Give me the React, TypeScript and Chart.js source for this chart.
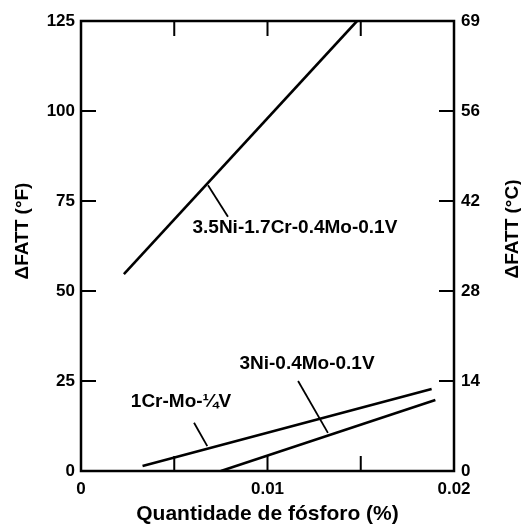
import React, { useEffect, useRef } from "react";
import { Chart, registerables } from "chart.js";

Chart.register(...registerables);

// Axis values and labels
const xTickLabels = ["0", "0.01", "0.02"];
const xInnerTicks = [0.005, 0.01, 0.015];
const yInnerTicks = [25, 50, 75, 100];
const yTickLabelsC = ["0", "14", "28", "42", "56", "69"];

// Series (x = phosphorus %, y = ΔFATT °F)
const ni35X = [0.0023, 0.0148];
const ni35Y = [54.7, 125];
const cr1X = [0.0033, 0.0188];
const cr1Y = [1.4, 22.8];
const ni3X = [0.0075, 0.019];
const ni3Y = [0, 19.7];

// Annotations
const annoText = ["3.5Ni-1.7Cr-0.4Mo-0.1V", "3Ni-0.4Mo-0.1V", "1Cr-Mo-¼V"];
const annoX = [0.01147, 0.01212, 0.00536];
const annoY = [67.5, 29.7, 19.25];
const leaderX = [[0.00681, 0.00788], [0.01164, 0.01324], [0.00606, 0.00677]];
const leaderY = [[79.4, 70.6], [25, 10.6], [13.4, 6.9]];

const FONT = "'Liberation Sans', Arial, Helvetica, sans-serif";

const pts = (xs: number[], ys: number[]) => xs.map((x, i) => ({ x, y: ys[i] }));

export default function App() {
  const ref = useRef<HTMLCanvasElement | null>(null);

  useEffect(() => {
    if (!ref.current) return;

    const framePlugin = {
      id: "frame",
      afterDraw(chart: any) {
        const { ctx, chartArea: a, scales } = chart;
        const xs = scales.x;
        const ys = scales.y;
        ctx.save();
        ctx.strokeStyle = "#000";
        ctx.lineWidth = 2.5;
        ctx.strokeRect(a.left, a.top, a.right - a.left, a.bottom - a.top);
        ctx.lineWidth = 2;
        const tl = 15;
        ctx.beginPath();
        xInnerTicks.forEach((v) => {
          const px = xs.getPixelForValue(v);
          ctx.moveTo(px, a.bottom);
          ctx.lineTo(px, a.bottom - tl);
          ctx.moveTo(px, a.top);
          ctx.lineTo(px, a.top + tl);
        });
        yInnerTicks.forEach((v) => {
          const py = ys.getPixelForValue(v);
          ctx.moveTo(a.left, py);
          ctx.lineTo(a.left + tl, py);
          ctx.moveTo(a.right, py);
          ctx.lineTo(a.right - tl, py);
        });
        ctx.stroke();

        // annotation labels
        ctx.fillStyle = "#000";
        ctx.font = `bold 19px ${FONT}`;
        ctx.textAlign = "center";
        ctx.textBaseline = "middle";
        annoText.forEach((t, i) => {
          ctx.fillText(t, xs.getPixelForValue(annoX[i]), ys.getPixelForValue(annoY[i]));
        });

        // vertical axis titles (both read bottom-to-top)
        const cy = (a.top + a.bottom) / 2 - 15;
        ctx.font = `bold 19px ${FONT}`;
        ctx.save();
        ctx.translate(a.left - 58, cy);
        ctx.rotate(-Math.PI / 2);
        ctx.fillText("ΔFATT (°F)", 0, 0);
        ctx.restore();
        ctx.save();
        ctx.translate(a.right + 59, cy - 2);
        ctx.rotate(-Math.PI / 2);
        ctx.fillText("ΔFATT (°C)", 0, 0);
        ctx.restore();
        ctx.restore();
      },
    };

    const lineDs = (xs: number[], ys: number[], w: number) => ({
      data: pts(xs, ys),
      borderColor: "#000",
      borderWidth: w,
      pointRadius: 0,
      fill: false,
      tension: 0,
      borderCapStyle: "butt" as const,
    });

    const noGrid = { display: false, drawTicks: false, tickLength: 0 };

    const chart = new Chart(ref.current, {
      type: "line",
      data: {
        datasets: [
          lineDs(ni35X, ni35Y, 2.6),
          lineDs(cr1X, cr1Y, 2.6),
          lineDs(ni3X, ni3Y, 2.6),
          ...leaderX.map((lx, i) => lineDs(lx, leaderY[i], 1.8)),
        ],
      },
      options: {
        animation: false,
        responsive: false,
        devicePixelRatio: 1,
        layout: { padding: { top: 21, left: 0, right: 0, bottom: 0 } },
        plugins: { legend: { display: false }, tooltip: { enabled: false } },
        scales: {
          x: {
            type: "linear",
            min: 0,
            max: 0.02,
            grid: noGrid,
            border: { display: false },
            ticks: {
              stepSize: 0.01,
              padding: 8,
              color: "#000",
              font: { family: FONT, size: 17, weight: "bold" },
              callback: (_v: any, i: number) => xTickLabels[i],
            },
            title: {
              display: true,
              text: "Quantidade de fósforo (%)",
              color: "#000",
              font: { family: FONT, size: 21, weight: "bold", lineHeight: 1 },
              padding: { top: 0, bottom: 5 },
            },
            afterFit: (s: any) => {
              s.height = 59;
            },
          },
          y: {
            type: "linear",
            position: "left",
            min: 0,
            max: 125,
            grid: noGrid,
            border: { display: false },
            ticks: {
              stepSize: 25,
              padding: 6,
              color: "#000",
              font: { family: FONT, size: 17, weight: "bold" },
            },
            afterFit: (s: any) => {
              s.width = 81;
            },
          },
          y2: {
            type: "linear",
            position: "right",
            min: 0,
            max: 125,
            grid: noGrid,
            border: { display: false },
            ticks: {
              stepSize: 25,
              padding: 7,
              color: "#000",
              font: { family: FONT, size: 17, weight: "bold" },
              callback: (_v: any, i: number) => yTickLabelsC[i],
            },
            afterFit: (s: any) => {
              s.width = 67;
            },
          },
        },
      },
      plugins: [framePlugin],
    });

    return () => chart.destroy();
  }, []);

  return (
    <div style={{ position: "absolute", left: 0, top: 0, width: 521, height: 530, background: "#fff" }}>
      <canvas ref={ref} width={521} height={530} style={{ width: 521, height: 530, display: "block" }} />
    </div>
  );
}
